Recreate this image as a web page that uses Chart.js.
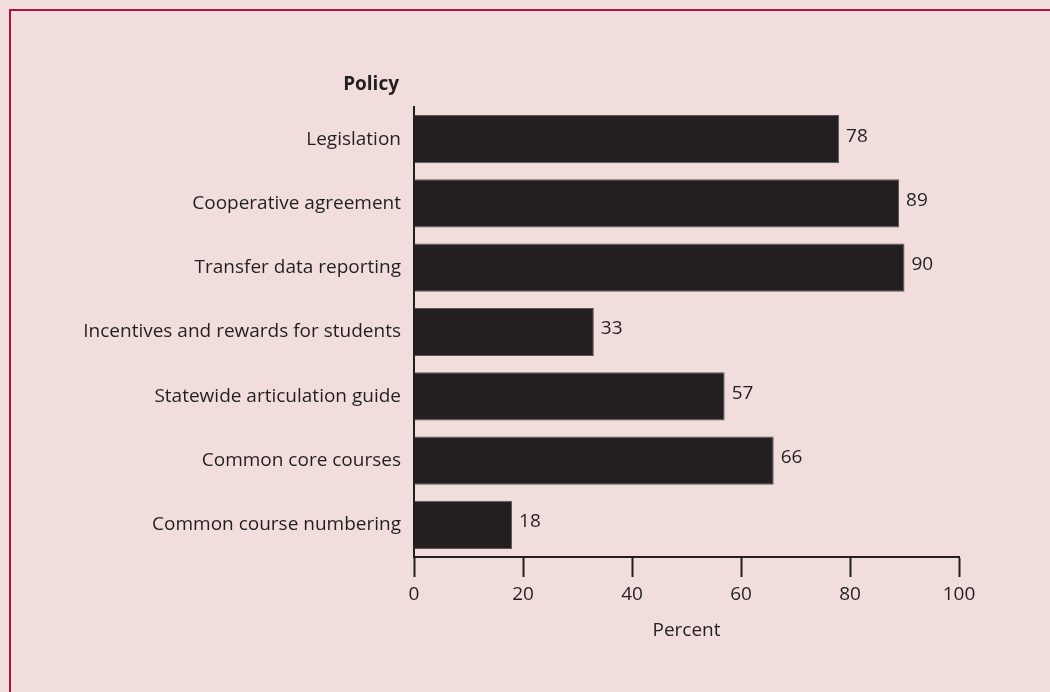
<!DOCTYPE html>
<html>
<head>
<meta charset="utf-8">
<script src="https://cdn.jsdelivr.net/npm/chart.js@4"></script>
<style>
  html, body { margin: 0; padding: 0; background: #f1dedc; overflow: hidden; }
  #frame {
    position: absolute; left: 9px; top: 9px; width: 1060px; height: 700px;
    border-left: 2px solid #b3103e; border-top: 2px solid #b3103e;
  }
  #wrap { position: absolute; left: 0; top: 0; width: 1050px; height: 692px; }
</style>
</head>
<body>
<div id="frame"></div>
<div id="wrap"><canvas id="myChart" width="1050" height="692"></canvas></div>
<script>
// policy categories and share of states (percent)
const categories = [
  "Legislation",
  "Cooperative agreement",
  "Transfer data reporting",
  "Incentives and rewards for students",
  "Statewide articulation guide",
  "Common core courses",
  "Common course numbering"
];
const percentValues = [78, 89, 90, 33, 57, 66, 18];
const xTicks = [0, 20, 40, 60, 80, 100];

const ink = "#231f20";
const fontFamily = "'Open Sans', 'Noto Sans', sans-serif";

const valueLabels = {
  id: "valueLabels",
  afterDatasetsDraw(chart) {
    const ctx = chart.ctx;
    const meta = chart.getDatasetMeta(0);
    ctx.save();
    ctx.font = "19px " + fontFamily;
    ctx.fillStyle = ink;
    ctx.textBaseline = "middle";
    ctx.textAlign = "left";
    meta.data.forEach((bar, i) => {
      ctx.fillText(String(percentValues[i]), bar.x + 7, bar.y - 3);
    });
    ctx.restore();
  }
};

const axisTitles = {
  id: "axisTitles",
  afterDraw(chart) {
    const ctx = chart.ctx;
    const area = chart.chartArea;
    ctx.save();
    ctx.fillStyle = ink;
    ctx.textBaseline = "middle";
    ctx.font = "bold 19px " + fontFamily;
    ctx.textAlign = "right";
    ctx.fillText("Policy", area.left - 15, area.top - 22);
    ctx.font = "19px " + fontFamily;
    ctx.textAlign = "center";
    ctx.fillText("Percent", (area.left + area.right) / 2, area.bottom + 74);
    ctx.restore();
  }
};

const myChart = document.getElementById("myChart");

new Chart(myChart, {
  type: "bar",
  data: {
    labels: categories,
    datasets: [{
      data: percentValues,
      backgroundColor: ink,
      borderColor: "#5c5556",
      borderWidth: 1,
      categoryPercentage: 0.75,
      barPercentage: 1
    }]
  },
  options: {
    indexAxis: "y",
    responsive: false,
    animation: false,
    layout: { padding: { top: 107, right: 91, bottom: 0, left: 0 } },
    plugins: { legend: { display: false }, tooltip: { enabled: false } },
    scales: {
      x: {
        type: "linear",
        min: 0,
        max: 100,
        afterBuildTicks(scale) {
          scale.ticks = xTicks.map(v => ({ value: v }));
        },
        afterFit(scale) { scale.height = 135; },
        grid: {
          drawOnChartArea: false,
          drawTicks: true,
          tickLength: 20,
          tickWidth: 2,
          tickColor: ink
        },
        border: { display: true, color: ink, width: 2 },
        ticks: {
          color: ink,
          padding: 6,
          font: { family: fontFamily, size: 19 }
        }
      },
      y: {
        afterFit(scale) { scale.width = 414; },
        grid: { drawOnChartArea: false, drawTicks: false },
        border: { display: true, color: ink, width: 2 },
        ticks: {
          color: ink,
          padding: 13,
          font: { family: fontFamily, size: 19 }
        }
      }
    }
  },
  plugins: [valueLabels, axisTitles]
});
</script>
</body>
</html>
